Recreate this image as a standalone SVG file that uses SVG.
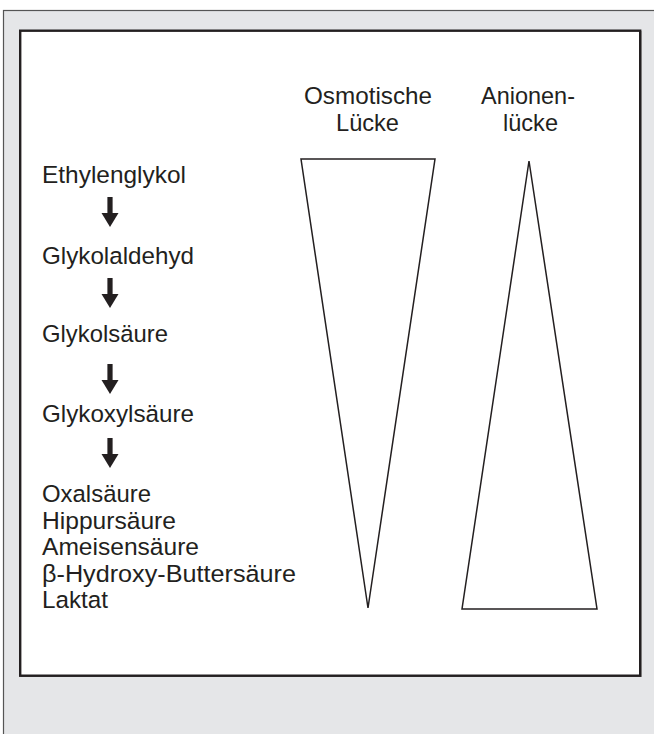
<svg xmlns="http://www.w3.org/2000/svg" width="654" height="734" viewBox="0 0 654 734">
<defs>
<style>
.t{font-family:"Liberation Sans",Arial,sans-serif;font-size:24.5px;fill:#231f20}
.c{text-anchor:middle}
.tri{fill:#fff;stroke:#231f20;stroke-width:1.5;stroke-linejoin:miter}
.arr{fill:#231f20}
</style>
<g id="arrowShape"><rect x="-2.6" y="0" width="5.2" height="16" class="arr"/><polygon points="-8.5,16 8.5,16 0,30" class="arr"/></g>
</defs>
<rect x="3.5" y="10.5" width="660" height="740" fill="#e5e6e8" stroke="#555" stroke-width="1.2"/>
<rect x="21" y="31.5" width="620" height="645" fill="#fff" stroke="#888" stroke-width="1"/>
<rect x="20.2" y="30.7" width="620" height="645" fill="#fff" stroke="#231f20" stroke-width="2.4"/>
<g id="n-ethylenglykol"><text class="t" x="42" y="183" textLength="144" lengthAdjust="spacingAndGlyphs">Ethylenglykol</text></g>
<g id="n-glykolaldehyd"><text class="t" x="42" y="264" textLength="152" lengthAdjust="spacingAndGlyphs">Glykolaldehyd</text></g>
<g id="n-glykolsaeure"><text class="t" x="42" y="342" textLength="126" lengthAdjust="spacingAndGlyphs">Glykolsäure</text></g>
<g id="n-glykoxylsaeure"><text class="t" x="42" y="422" textLength="152" lengthAdjust="spacingAndGlyphs">Glykoxylsäure</text></g>
<g id="n-produkte">
<text class="t" x="42" y="502" textLength="109" lengthAdjust="spacingAndGlyphs">Oxalsäure</text>
<text class="t" x="42" y="528.5" textLength="134" lengthAdjust="spacingAndGlyphs">Hippursäure</text>
<text class="t" x="42" y="555" textLength="157" lengthAdjust="spacingAndGlyphs">Ameisensäure</text>
<text class="t" x="42" y="581.5" textLength="254" lengthAdjust="spacingAndGlyphs">β-Hydroxy-Buttersäure</text>
<text class="t" x="42" y="608" textLength="66" lengthAdjust="spacingAndGlyphs">Laktat</text>
</g>
<g id="connectors">
<use href="#arrowShape" x="110" y="197"/>
<use href="#arrowShape" x="110" y="278"/>
<use href="#arrowShape" x="110" y="364"/>
<use href="#arrowShape" x="110" y="438"/>
</g>
<g id="n-osmotische">
<text class="t c" x="368" y="104" textLength="128" lengthAdjust="spacingAndGlyphs">Osmotische</text>
<text class="t c" x="367.5" y="131" textLength="63" lengthAdjust="spacingAndGlyphs">Lücke</text>
<polygon class="tri" points="301,159 435,159 368,608"/>
</g>
<g id="n-anionen">
<text class="t c" x="528" y="104" textLength="94" lengthAdjust="spacingAndGlyphs">Anionen-</text>
<text class="t c" x="530.5" y="131" textLength="55" lengthAdjust="spacingAndGlyphs">lücke</text>
<polygon class="tri" points="529,161 597,609 462,609"/>
</g>
</svg>
